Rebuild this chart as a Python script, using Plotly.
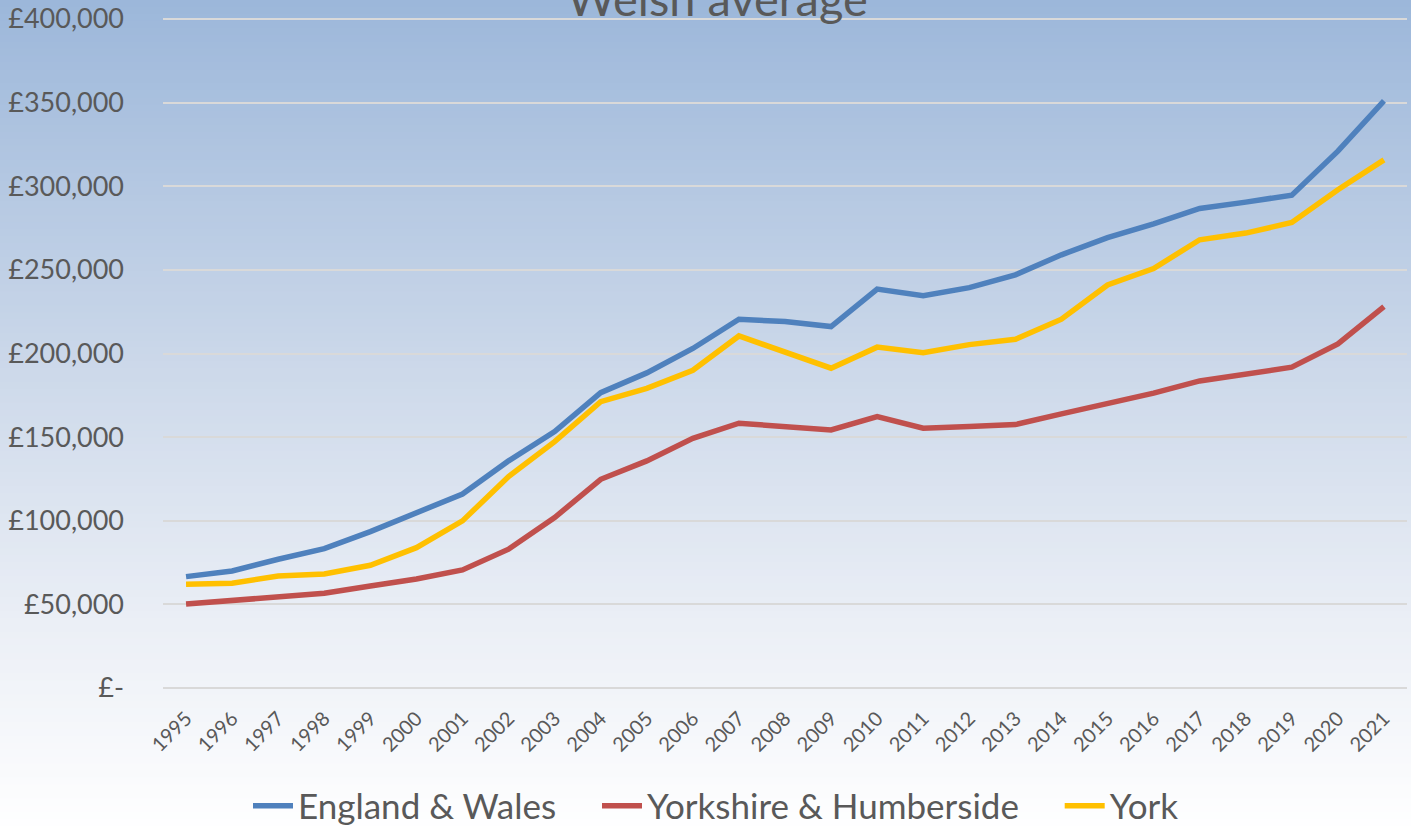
import plotly.graph_objects as go

years = [str(y) for y in range(1995, 2022)]

england_wales = [66600, 70000, 77000, 83300, 93500, 104900, 116000, 135800, 153300, 176600,
                 188400, 203000, 220500, 219100, 216100, 238500, 234600, 239400, 247000, 259000,
                 269300, 277500, 286700, 290500, 294700, 321000, 351000]
yorkshire = [50200, 52200, 55000, 56600, 61000, 65200, 70600, 83000, 101900, 124800,
             135800, 149300, 158300, 156300, 154300, 162300, 155300, 156300, 157500, 163900,
             170300, 176300, 183600, 187600, 191800, 205700, 228000]
york = [62000, 62600, 67000, 68200, 73400, 83900, 99900, 126400, 147300, 171200,
        179200, 190000, 210500, 201000, 191200, 203800, 200500, 205300, 208500, 220500,
        241000, 250800, 268000, 272000, 278300, 297900, 315800]

y_ticks = [0, 50000, 100000, 150000, 200000, 250000, 300000, 350000, 400000]
y_labels = ["£-", "£50,000", "£100,000", "£150,000", "£200,000", "£250,000",
            "£300,000", "£350,000", "£400,000"]

FONT = "Lato"
GREY = "#595959"
W, H = 1411, 833
M_L, M_R, M_T, M_B = 163, 4, 17, 143

fig = go.Figure()

# trailing spaces widen the gap between legend entries, as in the original
series = [
    ("England & Wales" + "\u00a0" * 4, england_wales, "#4F81BD"),
    ("Yorkshire & Humberside" + "\u00a0" * 4, yorkshire, "#C0504D"),
    ("York", york, "#FFC000"),
]
for name, vals, col in series:
    fig.add_trace(go.Scatter(
        x=years, y=vals, name=name, mode="lines",
        line=dict(color=col, width=5.5),
    ))

# background gradient (blue at top fading to white), drawn as thin bands
stops = [(0.0, (156, 183, 218)), (0.45, (205, 217, 234)),
         (0.75, (235, 239, 246)), (1.0, (255, 255, 255))]


def grad(t):
    for (t0, c0), (t1, c1) in zip(stops[:-1], stops[1:]):
        if t <= t1:
            f = (t - t0) / (t1 - t0)
            return "rgb(%d,%d,%d)" % tuple(round(a + (b - a) * f) for a, b in zip(c0, c1))
    return "rgb(255,255,255)"


plot_h = H - M_T - M_B
plot_w = W - M_L - M_R
n_bands = 120
shapes = []
for i in range(n_bands):
    p0 = H * i / n_bands - (10 if i == 0 else 0)
    p1 = H * (i + 1) / n_bands + 1
    shapes.append(dict(
        type="rect", xref="paper", yref="paper", layer="below",
        x0=-(M_L + 10) / plot_w, x1=1 + (M_R + 10) / plot_w,
        y0=(H - M_B - p1) / plot_h, y1=(H - M_B - p0) / plot_h,
        fillcolor=grad((i + 0.5) / n_bands), line=dict(width=0),
    ))

fig.update_layout(
    width=W, height=H,
    margin=dict(l=M_L, r=M_R, t=M_T, b=M_B, autoexpand=False),
    paper_bgcolor="white",
    plot_bgcolor="rgba(0,0,0,0)",
    shapes=shapes,
    font=dict(family=FONT, color=GREY),
    showlegend=True,
    legend=dict(
        orientation="h", xref="paper", yref="paper",
        x=(716 - M_L) / plot_w, xanchor="center",
        y=(H - M_B - 806) / plot_h, yanchor="middle",
        font=dict(size=35, color=GREY, family=FONT),
        bgcolor="rgba(0,0,0,0)", itemwidth=40, tracegroupgap=0,
    ),
    annotations=[dict(
        text="Welsh average", xref="paper", yref="paper",
        x=(717 - M_L) / plot_w, y=(H - M_B + 2) / plot_h,
        xanchor="center", yanchor="middle", showarrow=False,
        font=dict(size=47, color=GREY, family=FONT),
    )],
    xaxis=dict(
        type="category", range=[-0.5, 26.5], automargin=False,
        showgrid=False, zeroline=False, showline=False,
        tickangle=-45, tickfont=dict(size=20, color=GREY),
        ticks="", ticklabelstandoff=12,
    ),
    yaxis=dict(
        range=[-1200, 401200], tickvals=y_ticks, ticktext=y_labels,
        automargin=False,
        showgrid=True, gridcolor="#D9D9D9", gridwidth=2,
        zeroline=False, showline=False,
        tickfont=dict(size=27, color=GREY),
        ticks="", ticklabelstandoff=38,
    ),
)

# drop the default page margin so the chart starts at the window's corner
fig.write_html("out.html", config={"displayModeBar": False},
               post_script="document.body.style.margin='0px';")
